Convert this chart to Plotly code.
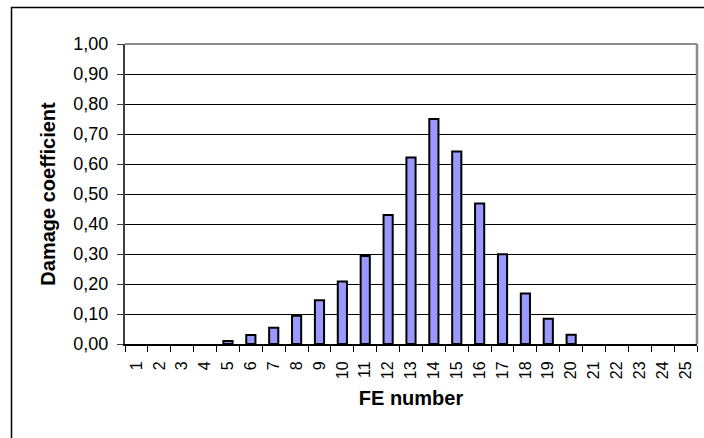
import plotly.graph_objects as go

# Data
fe_numbers = [str(i) for i in range(1, 26)]
damage_coefficient = [0.0, 0.0, 0.0, 0.0, 0.010, 0.030, 0.054, 0.094, 0.146, 0.208,
                      0.293, 0.430, 0.622, 0.750, 0.642, 0.468, 0.299, 0.168, 0.084, 0.031,
                      0.0, 0.0, 0.0, 0.0, 0.0]
y_ticks = [0.0, 0.1, 0.2, 0.3, 0.4, 0.5, 0.6, 0.7, 0.8, 0.9, 1.0]

FONT = "Liberation Sans, Arial, Helvetica, sans-serif"

W, H = 704, 438
ML, MR, MT, MB = 125, 7, 44, 94
pw = W - ML - MR
ph = H - MT - MB

fig = go.Figure()
fig.add_trace(go.Bar(
    x=fe_numbers,
    y=damage_coefficient,
    marker=dict(color="#9999FF",
                line=dict(color="#000000",
                          width=[0 if v == 0 else 2 for v in damage_coefficient])),
))

def px_to_paper_x(px):
    return (px - ML) / pw

def px_to_paper_y(py):
    return 1 - (py - MT) / ph

shapes = [
    # plot-area border (top and right), grey
    dict(type="line", xref="paper", yref="paper", x0=0, x1=1, y0=1, y1=1,
         line=dict(color="#8C8C8C", width=2), layer="above"),
    dict(type="line", xref="paper", yref="paper", x0=1, x1=1, y0=0, y1=1,
         line=dict(color="#8C8C8C", width=2.5), layer="above"),
    # outer chart border
    dict(type="rect", xref="paper", yref="paper",
         x0=px_to_paper_x(11.5), x1=px_to_paper_x(730),
         y0=px_to_paper_y(470), y1=px_to_paper_y(7.5),
         line=dict(color="#000000", width=1.5), fillcolor="rgba(0,0,0,0)", layer="above"),
]

fig.update_layout(
    width=W, height=H,
    margin=dict(l=ML, r=MR, t=MT, b=MB, pad=0),
    paper_bgcolor="white", plot_bgcolor="white",
    separators=", ",
    bargap=0.6,
    showlegend=False,
    font=dict(family=FONT, color="black"),
    shapes=shapes,
    xaxis=dict(
        type="category",
        tickson="boundaries",
        ticks="outside", ticklen=6, tickwidth=1, tickcolor="#000000",
        tickangle=-90,
        ticklabelstandoff=9,
        tickfont=dict(size=16, family=FONT, color="black"),
        showline=True, linecolor="#000000", linewidth=2,
        showgrid=False,
        title=dict(text="<b>FE number</b>", font=dict(size=20, family=FONT), standoff=13),
        automargin=False,
    ),
    yaxis=dict(
        range=[0, 1],
        tickvals=y_ticks,
        tickformat=".2f",
        ticks="outside", ticklen=6, tickwidth=1, tickcolor="#404040",
        ticklabelstandoff=5,
        tickfont=dict(size=18, family=FONT, color="black"),
        showline=True, linecolor="#404040", linewidth=2,
        showgrid=True, gridcolor="#000000", gridwidth=1,
        zeroline=False,
        title=dict(text="<b>Damage coefficient</b>", font=dict(size=20, family=FONT), standoff=12),
        automargin=False,
    ),
)

fig.write_html("out.html",
               config={"displayModeBar": False},
               post_script="document.body.style.margin='0';document.body.style.padding='0';")
